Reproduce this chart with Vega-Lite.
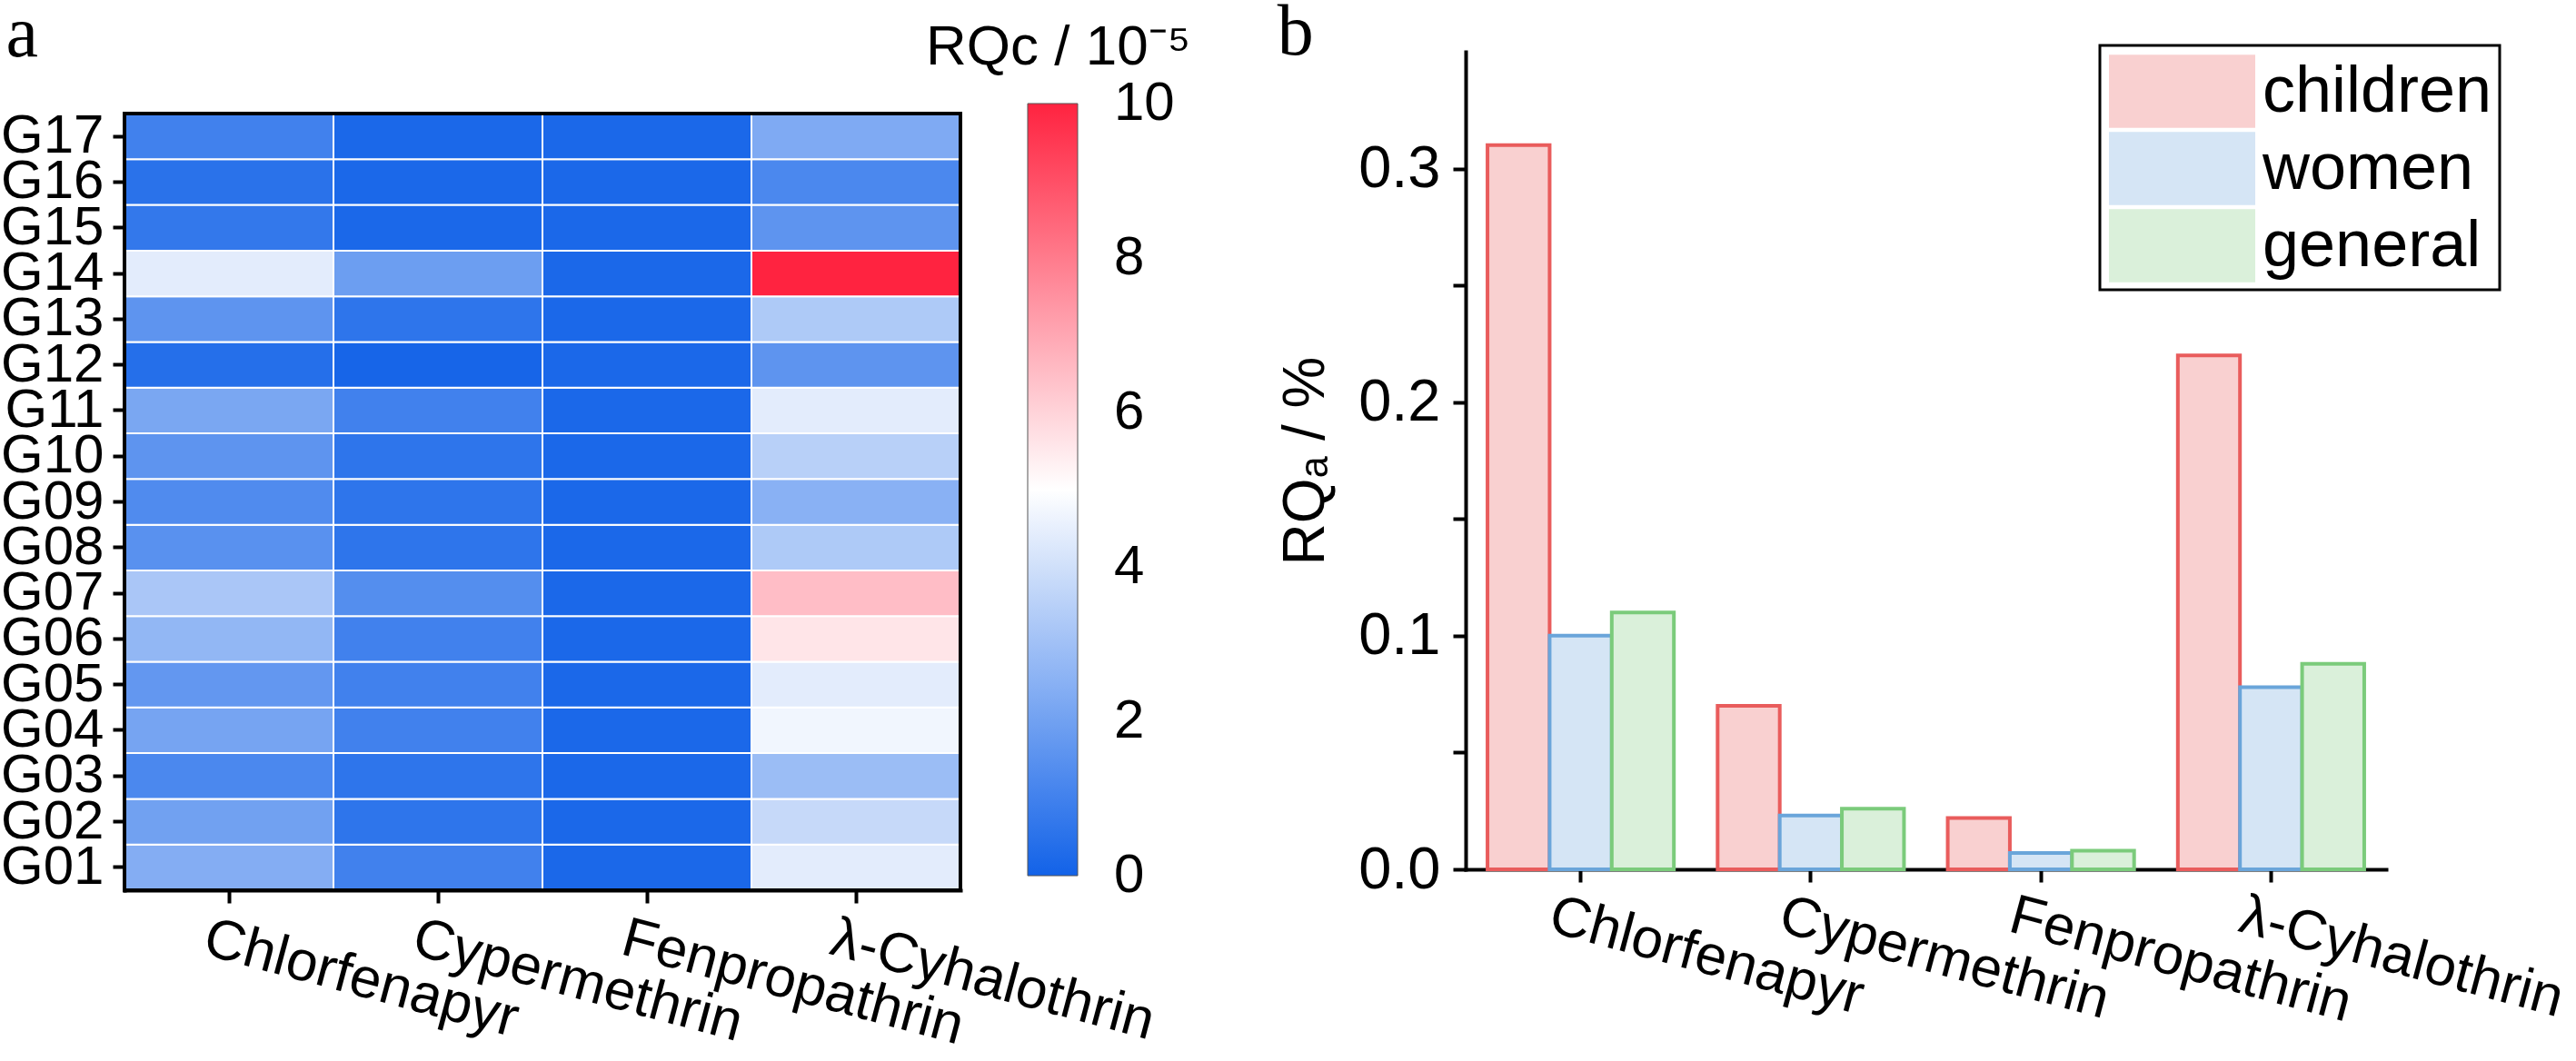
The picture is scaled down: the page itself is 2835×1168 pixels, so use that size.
{
  "$schema": "https://vega.github.io/schema/vega-lite/v6.json",
  "padding": {"top": -5, "left": 0, "right": 0, "bottom": 0},
  "background": "white",
  "spacing": 94,
  "config": {
    "font": "Liberation Sans",
    "view": {"stroke": null},
    "axis": {"domainColor": "black", "tickColor": "black", "labelColor": "black", "titleColor": "black", "grid": false, "labelFont": "Liberation Sans", "titleFont": "Liberation Sans", "titleFontWeight": "normal", "zindex": 1, "labelLimit": 2000, "domainCap": "square"},
    "legend": {"labelFont": "Liberation Sans", "titleFont": "Liberation Sans", "titleFontWeight": "normal", "labelColor": "black", "titleColor": "black", "labelLimit": 2000, "titleLimit": 2000},
    "title": {"font": "Liberation Serif", "fontWeight": "normal", "fontSize": 80, "anchor": "start", "frame": "bounds", "color": "black", "baseline": "alphabetic"}
  },
  "hconcat": [
    {
      "width": 920,
      "height": 923,
      "title": {"text": "a", "offset": -57, "dx": 6},
      "data": {"values": [
        {"g": "G01", "p": "Chlorfenapyr", "v": 2.4}, {"g": "G02", "p": "Chlorfenapyr", "v": 2.0}, {"g": "G03", "p": "Chlorfenapyr", "v": 1.2}, {"g": "G04", "p": "Chlorfenapyr", "v": 2.1}, {"g": "G05", "p": "Chlorfenapyr", "v": 1.7}, {"g": "G06", "p": "Chlorfenapyr", "v": 2.7}, {"g": "G07", "p": "Chlorfenapyr", "v": 3.2}, {"g": "G08", "p": "Chlorfenapyr", "v": 1.5}, {"g": "G09", "p": "Chlorfenapyr", "v": 1.3}, {"g": "G10", "p": "Chlorfenapyr", "v": 1.6}, {"g": "G11", "p": "Chlorfenapyr", "v": 2.2}, {"g": "G12", "p": "Chlorfenapyr", "v": 0.4}, {"g": "G13", "p": "Chlorfenapyr", "v": 1.6}, {"g": "G14", "p": "Chlorfenapyr", "v": 4.4}, {"g": "G15", "p": "Chlorfenapyr", "v": 0.7}, {"g": "G16", "p": "Chlorfenapyr", "v": 0.5}, {"g": "G17", "p": "Chlorfenapyr", "v": 1.0},
        {"g": "G01", "p": "Cypermethrin", "v": 1.0}, {"g": "G02", "p": "Cypermethrin", "v": 0.6}, {"g": "G03", "p": "Cypermethrin", "v": 0.6}, {"g": "G04", "p": "Cypermethrin", "v": 1.0}, {"g": "G05", "p": "Cypermethrin", "v": 1.0}, {"g": "G06", "p": "Cypermethrin", "v": 1.0}, {"g": "G07", "p": "Cypermethrin", "v": 1.4}, {"g": "G08", "p": "Cypermethrin", "v": 0.6}, {"g": "G09", "p": "Cypermethrin", "v": 0.6}, {"g": "G10", "p": "Cypermethrin", "v": 0.6}, {"g": "G11", "p": "Cypermethrin", "v": 1.0}, {"g": "G12", "p": "Cypermethrin", "v": 0.1}, {"g": "G13", "p": "Cypermethrin", "v": 0.6}, {"g": "G14", "p": "Cypermethrin", "v": 1.9}, {"g": "G15", "p": "Cypermethrin", "v": 0.2}, {"g": "G16", "p": "Cypermethrin", "v": 0.2}, {"g": "G17", "p": "Cypermethrin", "v": 0.2},
        {"g": "G01", "p": "Fenpropathrin", "v": 0.2}, {"g": "G02", "p": "Fenpropathrin", "v": 0.2}, {"g": "G03", "p": "Fenpropathrin", "v": 0.2}, {"g": "G04", "p": "Fenpropathrin", "v": 0.2}, {"g": "G05", "p": "Fenpropathrin", "v": 0.2}, {"g": "G06", "p": "Fenpropathrin", "v": 0.2}, {"g": "G07", "p": "Fenpropathrin", "v": 0.2}, {"g": "G08", "p": "Fenpropathrin", "v": 0.2}, {"g": "G09", "p": "Fenpropathrin", "v": 0.2}, {"g": "G10", "p": "Fenpropathrin", "v": 0.2}, {"g": "G11", "p": "Fenpropathrin", "v": 0.2}, {"g": "G12", "p": "Fenpropathrin", "v": 0.2}, {"g": "G13", "p": "Fenpropathrin", "v": 0.2}, {"g": "G14", "p": "Fenpropathrin", "v": 0.2}, {"g": "G15", "p": "Fenpropathrin", "v": 0.2}, {"g": "G16", "p": "Fenpropathrin", "v": 0.2}, {"g": "G17", "p": "Fenpropathrin", "v": 0.2},
        {"g": "G01", "p": "λ-Cyhalothrin", "v": 4.4}, {"g": "G02", "p": "λ-Cyhalothrin", "v": 3.8}, {"g": "G03", "p": "λ-Cyhalothrin", "v": 2.9}, {"g": "G04", "p": "λ-Cyhalothrin", "v": 4.7}, {"g": "G05", "p": "λ-Cyhalothrin", "v": 4.4}, {"g": "G06", "p": "λ-Cyhalothrin", "v": 5.6}, {"g": "G07", "p": "λ-Cyhalothrin", "v": 6.5}, {"g": "G08", "p": "λ-Cyhalothrin", "v": 3.3}, {"g": "G09", "p": "λ-Cyhalothrin", "v": 2.5}, {"g": "G10", "p": "λ-Cyhalothrin", "v": 3.5}, {"g": "G11", "p": "λ-Cyhalothrin", "v": 4.4}, {"g": "G12", "p": "λ-Cyhalothrin", "v": 1.6}, {"g": "G13", "p": "λ-Cyhalothrin", "v": 3.3}, {"g": "G14", "p": "λ-Cyhalothrin", "v": 10}, {"g": "G15", "p": "λ-Cyhalothrin", "v": 1.6}, {"g": "G16", "p": "λ-Cyhalothrin", "v": 1.2}, {"g": "G17", "p": "λ-Cyhalothrin", "v": 2.3}
      ]},
      "layer": [
        {
          "mark": {"type": "rect", "stroke": "white", "strokeWidth": 2},
          "encoding": {
            "x": {"field": "p", "type": "nominal", "sort": ["Chlorfenapyr", "Cypermethrin", "Fenpropathrin", "λ-Cyhalothrin"], "scale": {"padding": 0},
              "axis": {"title": null, "labelFontSize": 62, "labelAngle": 15, "labelAlign": "left", "labelBaseline": "top", "labelPadding": 8, "labelOffset": -18, "tickSize": 14, "tickWidth": 4, "domainWidth": 4}},
            "y": {"field": "g", "type": "nominal", "sort": "descending", "scale": {"padding": 0, "range": [68, 923]},
              "axis": {"title": null, "labelFontSize": 60, "labelPadding": 10, "tickSize": 13, "tickWidth": 4, "domainWidth": 4}},
            "fill": {"field": "v", "type": "quantitative",
              "scale": {"domain": [0, 5, 10], "range": ["#1262E8", "#FFFFFF", "#FF2340"], "interpolate": "rgb"},
              "legend": {"title": "RQc / 10⁻⁵", "orient": "none", "legendX": 882, "legendY": -35, "direction": "vertical", "gradientLength": 850, "gradientThickness": 55, "values": [0, 2, 4, 6, 8, 10], "format": "d", "labelFontSize": 60, "labelOffset": 40, "titleFontSize": 62, "titlePadding": 30, "titleAnchor": "start", "titleAlign": "left", "gradientStrokeColor": "#555555", "gradientStrokeWidth": 1, "padding": 0, "labelOverlap": false,
                "encode": {"title": {"update": {"dx": {"value": -112}}}, "labels": {"update": {"baseline": {"value": "middle"}}}}}}
          }
        },
        {
          "data": {"values": [{}]},
          "mark": {"type": "rect", "filled": false, "stroke": "black", "strokeWidth": 4},
          "encoding": {
            "y": {"datum": "G17", "type": "nominal", "bandPosition": 0},
            "y2": {"datum": "G01", "bandPosition": 1}
          }
        }
      ]
    },
    {
      "width": 1013,
      "height": 900,
      "title": {"text": "b", "offset": -28},
      "data": {"values": [
        {"p": "Chlorfenapyr", "grp": "children", "v": 0.310}, {"p": "Chlorfenapyr", "grp": "women", "v": 0.100}, {"p": "Chlorfenapyr", "grp": "general", "v": 0.110},
        {"p": "Cypermethrin", "grp": "children", "v": 0.070}, {"p": "Cypermethrin", "grp": "women", "v": 0.023}, {"p": "Cypermethrin", "grp": "general", "v": 0.026},
        {"p": "Fenpropathrin", "grp": "children", "v": 0.022}, {"p": "Fenpropathrin", "grp": "women", "v": 0.007}, {"p": "Fenpropathrin", "grp": "general", "v": 0.008},
        {"p": "λ-Cyhalothrin", "grp": "children", "v": 0.220}, {"p": "λ-Cyhalothrin", "grp": "women", "v": 0.078}, {"p": "λ-Cyhalothrin", "grp": "general", "v": 0.088}
      ]},
      "mark": {"type": "bar", "strokeWidth": 4},
      "encoding": {
        "x": {"field": "p", "type": "nominal", "sort": ["Chlorfenapyr", "Cypermethrin", "Fenpropathrin", "λ-Cyhalothrin"], "scale": {"paddingInner": 0.19, "paddingOuter": 0.095},
          "axis": {"title": null, "labelFontSize": 62, "labelAngle": 15, "labelAlign": "left", "labelBaseline": "top", "labelPadding": 6, "labelOffset": -25, "tickSize": 14, "tickWidth": 4, "domainWidth": 4}},
        "xOffset": {"field": "grp", "type": "nominal", "sort": ["children", "women", "general"], "scale": {"paddingInner": 0, "paddingOuter": 0}},
        "y": {"field": "v", "type": "quantitative", "scale": {"domain": [0, 0.35], "nice": false},
          "axis": {"title": "RQₐ / %", "titleFontSize": 64, "titlePadding": 25, "labelFontSize": 65, "labelPadding": 14, "tickSize": 14, "tickWidth": 4, "domainWidth": 4, "values": [0, 0.05, 0.1, 0.15, 0.2, 0.25, 0.3], "format": ".1f", "labelExpr": "round(datum.value * 100) % 10 == 0 ? datum.label : ''"}},
        "fill": {"field": "grp", "type": "nominal", "scale": {"domain": ["children", "women", "general"], "range": ["#F9D0D0", "#D5E5F5", "#DAF0DA"]},
          "legend": {"title": null, "orient": "none", "legendX": 698, "legendY": -7, "symbolType": "M-2,-1H2V1H-2Z", "symbolSize": 6480, "symbolOffset": 40, "symbolStrokeWidth": 4, "labelFontSize": 72, "labelOffset": 46, "rowPadding": 2, "padding": 8, "strokeColor": "black", "fillColor": "white",
            "encode": {"legend": {"update": {"strokeWidth": {"value": 3}}}}}},
        "stroke": {"field": "grp", "type": "nominal", "scale": {"domain": ["children", "women", "general"], "range": ["#E95C5C", "#6AA5DA", "#7BCB7B"]}}
      }
    }
  ]
}
